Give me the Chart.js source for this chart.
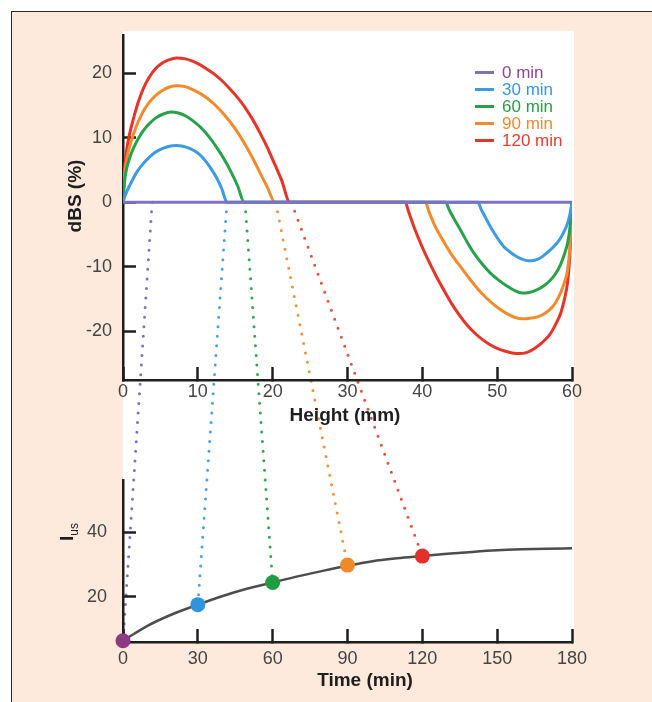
<!DOCTYPE html>
<html>
<head>
<meta charset="utf-8">
<script src="https://cdn.jsdelivr.net/npm/chart.js@4.4.1/dist/chart.umd.min.js"></script>
<style>
  body { margin: 0; width: 652px; height: 702px; overflow: hidden; background: #fff; position: relative; font-family: "Liberation Sans", Arial, sans-serif; }
  .abs { position: absolute; }
  #panel { left: 11px; top: 11px; width: 700px; height: 760px; background: #fdeadc; border: 1.5px solid #2a2a2a; }
  #plotBg { left: 123px; top: 31px; width: 451px; height: 611px; background: #fff; }
  .title { font-weight: bold; font-size: 19px; line-height: 1; color: #1e1e1e; white-space: nowrap; transform: translate(-50%, -50%); }
  .rot { transform: translate(-50%, -50%) rotate(-90deg); }
  #legend { left: 475px; top: 64px; }
  .legRow { height: 17px; display: flex; align-items: center; font-size: 17px; line-height: 17px; white-space: nowrap; }
  .legLine { width: 19px; height: 3px; margin-right: 8px; }
  sub { font-size: 12px; font-weight: normal; vertical-align: -5px; line-height: 0; }
</style>
</head>
<body>
<div id="panel" class="abs"></div>
<div id="plotBg" class="abs"></div>
<canvas id="links" class="abs" width="652" height="702" style="left:0;top:0"></canvas>
<canvas id="topChart" class="abs" width="652" height="440" style="left:0;top:0"></canvas>
<canvas id="bottomChart" class="abs" width="652" height="262" style="left:0;top:440px"></canvas>

<div class="abs title rot" style="left:73.5px;top:195.5px">dBS (%)</div>
<div class="abs title" style="left:345px;top:414px">Height (mm)</div>
<div class="abs title rot" style="left:66px;top:532px">I<sub>us</sub></div>
<div class="abs title" style="left:365px;top:679px">Time (min)</div>
<div id="legend" class="abs"></div>

<script>
// ---------- data ----------
const seriesLabels = ["0 min", "30 min", "60 min", "90 min", "120 min"];

// top chart: dBS (%) against height (mm), one pair of arrays per series
const height0 = [0, 60];
const dbs0 = [0, 0];

const height30 = [0, 0.3, 0.9, 1.8, 2.7, 3.6, 4.5, 5.4, 6.2, 7.1, 8.0, 8.9, 9.8, 10.6, 11.3, 12.0, 12.6, 13.2, 13.9,
                  47.4, 47.9, 48.5, 49.1, 50.0, 50.9, 51.8, 52.7, 53.5, 54.2, 55.0, 55.7, 56.4, 57.1, 57.8, 58.5, 59.0, 59.4, 59.7, 60];
const dbs30 = [0, 1.1, 2.6, 4.6, 6.0, 7.1, 7.9, 8.4, 8.7, 8.8, 8.7, 8.35, 7.8, 7.0, 6.0, 4.8, 3.6, 2.1, 0,
               0, -1.2, -2.5, -3.8, -5.5, -6.9, -7.8, -8.5, -8.9, -9.1, -9.0, -8.7, -8.1, -7.4, -6.6, -5.5, -4.4, -3.3, -2.0, 0];

const height60 = [0, 0.2, 0.5, 0.9, 1.4, 2.0, 2.7, 3.5, 4.4, 5.4, 6.4, 7.4, 8.4, 9.4, 10.4, 11.4, 12.4, 13.4, 14.4, 15.3, 16.2,
                  43.1, 43.6, 44.3, 45.1, 46.0, 46.9, 48.0, 49.1, 50.2, 51.3, 52.3, 53.3, 54.3, 55.3, 56.2, 57.1, 57.8, 58.5, 59.0, 59.4, 59.7, 60];
const dbs60 = [0, 3.2, 5.3, 6.9, 8.4, 9.8, 11.1, 12.2, 13.1, 13.7, 14.0, 13.85, 13.4, 12.6, 11.6, 10.3, 8.7, 6.9, 4.8, 2.6, 0,
               0, -1.2, -2.7, -4.3, -6.2, -7.9, -9.6, -11.0, -12.1, -13.0, -13.7, -14.1, -14.0, -13.6, -13.0, -12.1, -11.1, -9.6, -8.0, -6.4, -4.2, 0];

const height90 = [0, 0.2, 0.5, 0.9, 1.4, 2.0, 2.7, 3.5, 4.3, 5.2, 6.2, 7.3, 8.3, 9.3, 10.3, 11.3, 12.3, 13.3, 14.3, 15.3, 16.3, 17.3, 18.3, 19.3, 20.3,
                  40.4, 40.9, 41.7, 42.8, 44.0, 45.1, 46.2, 47.3, 48.6, 50.0, 51.3, 52.4, 53.4, 54.4, 55.4, 56.3, 57.1, 57.8, 58.5, 59.0, 59.4, 59.7, 60];
const dbs90 = [0, 4.1, 6.7, 8.7, 10.6, 12.4, 14.1, 15.5, 16.5, 17.3, 17.9, 18.1, 17.95, 17.5, 16.9, 16.1, 15.1, 13.9, 12.5, 10.9, 9.0, 6.9, 4.6, 2.3, 0,
               0, -1.5, -3.7, -6.0, -8.3, -10.0, -11.7, -13.3, -14.9, -16.3, -17.3, -17.9, -18.1, -18.0, -17.8, -17.3, -16.6, -15.6, -14.0, -12.4, -10.6, -7.2, 0];

const height120 = [0, 0.2, 0.5, 0.9, 1.4, 2.0, 2.7, 3.5, 4.3, 5.2, 6.1, 7.15, 8.2, 9.2, 10.2, 11.2, 12.2, 13.2, 14.2, 15.2, 16.2, 17.2, 18.2, 19.2, 20.2, 21.2, 22.3,
                   37.7, 38.2, 39.0, 40.0, 41.0, 42.0, 43.0, 44.0, 45.0, 46.0, 47.0, 48.0, 49.0, 50.0, 51.0, 52.0, 53.0, 54.0, 55.0, 56.0, 57.0, 57.8, 58.5, 59.0, 59.4, 59.7, 60];
const dbs120 = [0, 5.0, 8.2, 10.7, 13.0, 15.4, 17.6, 19.4, 20.7, 21.6, 22.1, 22.4, 22.3, 21.95, 21.4, 20.7, 19.9, 18.9, 17.7, 16.4, 14.9, 13.1, 11.0, 8.7, 6.1, 3.4, 0,
                0, -1.6, -4.2, -7.0, -9.5, -11.8, -13.9, -15.9, -17.6, -19.1, -20.3, -21.3, -22.1, -22.7, -23.1, -23.4, -23.5, -23.3, -22.7, -21.8, -20.6, -19.0, -17.2, -15.0, -12.5, -8.5, 0];

const heightTicks = [0, 10, 20, 30, 40, 50, 60];
const dbsTicks = [-20, -10, 0, 10, 20];

// bottom chart: I_us against time (min)
const curveTimes = [0, 10, 20, 30, 40, 50, 60, 70, 80, 90, 100, 110, 120, 130, 140, 150, 160, 170, 180];
const curveIus = [6.3, 11.0, 14.6, 17.5, 20.2, 22.5, 24.4, 26.3, 28.0, 29.6, 31.0, 31.9, 32.6, 33.3, 33.9, 34.4, 34.7, 34.9, 35.0];
const pointTimes = [0, 30, 60, 90, 120];
const pointIus = [6.3, 17.5, 24.4, 29.8, 32.6];
const timeTicks = [0, 30, 60, 90, 120, 150, 180];
const iusTicks = [20, 40];

// heights where the dotted links leave the zero line
const linkHeights = [3.9, 13.9, 16.3, 20.4, 22.5];

// ---------- styles ----------
const lineColors = ["#7f70c2", "#3d9be2", "#27a24a", "#f38b2c", "#e7342b"];
const legendTextColors = ["#8b4690", "#3d95dc", "#2b9b48", "#f08a2e", "#e5402f"];
const dotColors = ["#7f70c2", "#4aa2e4", "#36a552", "#f3923a", "#e9503a"];
const pointColors = ["#8a3b84", "#2f94dc", "#1f9d45", "#ef8a2a", "#e2312d"];
const axisColor = "#1e1e1e";
const tickLabelColor = "#444";

Chart.defaults.font.family = "'Liberation Sans', Arial, sans-serif";

const heights = [height0, height30, height60, height90, height120];
const dbsValues = [dbs0, dbs30, dbs60, dbs90, dbs120];

function axis(min, max, tickValues, size, labelPad, isX) {
    return {
        type: "linear",
        min: min,
        max: max,
        afterBuildTicks: s => { s.ticks = tickValues.map(v => ({ value: v })); },
        afterFit: s => { if (isX) { s.height = size; } else { s.width = size; } },
        border: { display: true, color: axisColor, width: 2.5 },
        grid: {
            drawOnChartArea: false,
            drawTicks: true,
            tickLength: -13,
            tickWidth: 2.5,
            tickColor: axisColor
        },
        ticks: {
            autoSkip: false,
            maxRotation: 0,
            padding: labelPad,
            color: tickLabelColor,
            font: { size: 18 },
            callback: v => String(v)
        }
    };
}

/* ==========================
   Top chart: dBS vs height
========================== */
const topChart = new Chart(document.getElementById("topChart"), {
    type: "line",
    data: {
        datasets: seriesLabels.map((label, i) => ({
            label: label,
            data: heights[i].map((h, j) => ({ x: h, y: dbsValues[i][j] })),
            borderColor: lineColors[i],
            borderWidth: 3,
            pointRadius: 0,
            fill: false,
            cubicInterpolationMode: "monotone"
        }))
    },
    options: {
        responsive: false,
        animation: false,
        layout: { padding: { left: 0, right: 80, top: 30, bottom: 0 } },
        plugins: { legend: { display: false }, tooltip: { enabled: false } },
        scales: {
            x: axis(0, 60, heightTicks, 60, 14, true),
            y: axis(-27.6, 26.0, dbsTicks, 123, 24, false)
        }
    }
});

/* ==========================
   Bottom chart: I_us vs time
========================== */
const bottomChart = new Chart(document.getElementById("bottomChart"), {
    type: "line",
    data: {
        datasets: [
            {
                label: "points",
                data: pointTimes.map((t, i) => ({ x: t, y: pointIus[i] })),
                showLine: false,
                pointRadius: 7.5,
                pointBorderWidth: 0,
                pointBackgroundColor: pointColors,
                pointBorderColor: pointColors,
                clip: false
            },
            {
                label: "curve",
                data: curveTimes.map((t, i) => ({ x: t, y: curveIus[i] })),
                borderColor: "#4d4d4d",
                borderWidth: 2.5,
                pointRadius: 0,
                fill: false,
                cubicInterpolationMode: "monotone"
            }
        ]
    },
    options: {
        responsive: false,
        animation: false,
        layout: { padding: { left: 0, right: 80, top: 38, bottom: 0 } },
        plugins: { legend: { display: false }, tooltip: { enabled: false } },
        scales: {
            x: axis(0, 180, timeTicks, 60, 19, true),
            y: axis(5.9, 56.3, iusTicks, 123, 29, false)
        }
    }
});

/* ==========================
   Dotted links between the charts
========================== */
const linkCtx = document.getElementById("links").getContext("2d");
const bottomOffset = 440;
linkCtx.lineCap = "round";
linkCtx.lineWidth = 3;
linkCtx.setLineDash([0, 9.6]);
linkHeights.forEach((h, i) => {
    const x1 = topChart.scales.x.getPixelForValue(h);
    const y1 = topChart.scales.y.getPixelForValue(0);
    const x2 = bottomChart.scales.x.getPixelForValue(pointTimes[i]);
    const y2 = bottomOffset + bottomChart.scales.y.getPixelForValue(pointIus[i]);
    linkCtx.strokeStyle = dotColors[i];
    linkCtx.beginPath();
    linkCtx.moveTo(x1, y1);
    linkCtx.lineTo(x2, y2);
    linkCtx.stroke();
});

/* ==========================
   Legend
========================== */
const legend = document.getElementById("legend");
seriesLabels.forEach((label, i) => {
    const row = document.createElement("div");
    row.className = "legRow";
    row.innerHTML = '<span class="legLine" style="background:' + lineColors[i] + '"></span>' +
        '<span style="color:' + legendTextColors[i] + '">' + label + '</span>';
    legend.appendChild(row);
});
</script>
</body>
</html>
